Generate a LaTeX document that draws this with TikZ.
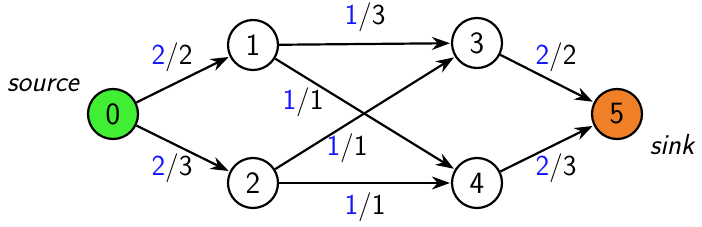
\documentclass[tikz,border=0pt]{standalone}
\usetikzlibrary{arrows.meta}
\definecolor{srcgreen}{RGB}{64,238,52}
\definecolor{sinkorange}{RGB}{240,128,40}
\definecolor{flowblue}{RGB}{20,20,255}
\begin{document}
\begin{tikzpicture}[x=1pt,y=-1pt,
  vert/.style={circle,draw,line width=2.2pt,minimum size=50pt,inner sep=0pt,font=\sffamily\fontsize{31}{33}\selectfont},
  flow/.style={font=\sffamily\fontsize{29}{31}\selectfont,inner sep=0pt},
  edge/.style={-{Stealth[length=18pt,width=13pt]},line width=2.2pt,shorten >=1pt},
  tag/.style={font=\sffamily\itshape\fontsize{29}{31}\selectfont,inner sep=0pt}]
\useasboundingbox (0,0) rectangle (702,227);
\node[vert,fill=srcgreen] (n0) at (113,114) {0};
\node[vert] (n1) at (253,45) {1};
\node[vert] (n2) at (253,183) {2};
\node[vert] (n3) at (477,43) {3};
\node[vert] (n4) at (477,183) {4};
\node[vert,fill=sinkorange] (n5) at (617,114) {5};
\draw[edge] (n0) -- (n1);
\draw[edge] (n0) -- (n2);
\draw[edge] (n1) -- (n3);
\draw[edge] (n1) -- (n4);
\draw[edge] (n2) -- (n3);
\draw[edge] (n2) -- (n4);
\draw[edge] (n3) -- (n5);
\draw[edge] (n4) -- (n5);
\node[flow] (l01) at (172,57) {\textcolor{flowblue}{2}/2};
\node[flow] (l02) at (172,168) {\textcolor{flowblue}{2}/3};
\node[flow] (l13) at (365,17) {\textcolor{flowblue}{1}/3};
\node[flow] (l14) at (303,102) {\textcolor{flowblue}{1}/1};
\node[flow] (l23) at (347,148) {\textcolor{flowblue}{1}/1};
\node[flow] (l24) at (365,207) {\textcolor{flowblue}{1}/1};
\node[flow] (l35) at (556,57) {\textcolor{flowblue}{2}/2};
\node[flow] (l45) at (556,168) {\textcolor{flowblue}{2}/3};
\node[tag] (src) at (43,85) {source};
\node[tag] (snk) at (672,145) {sink};
\end{tikzpicture}
\end{document}
